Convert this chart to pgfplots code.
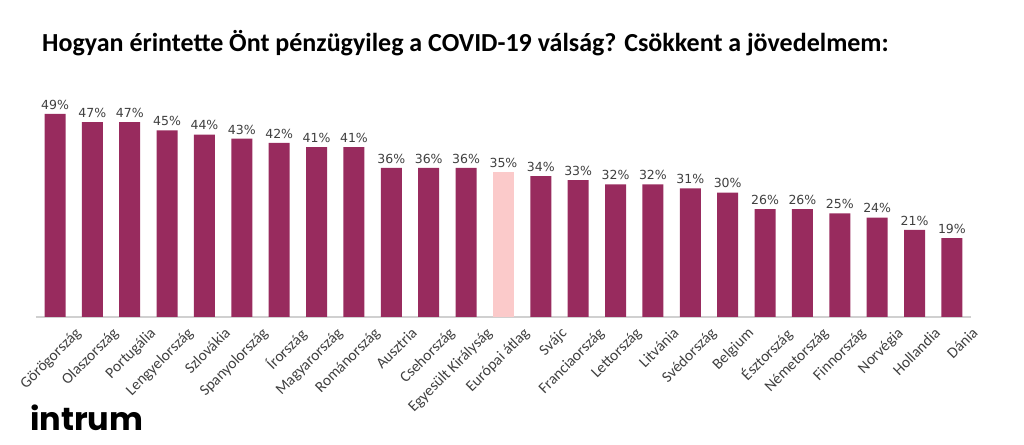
\documentclass[border=0pt]{standalone}
\usepackage{pgfplots}
\pgfplotsset{compat=1.18}
\usepackage{fontspec}
\setmainfont{Carlito}
\newfontfamily\logofont{Poppins}
\newfontfamily\valfont{DejaVu Sans}
\definecolor{plum}{HTML}{982B5E}
\definecolor{pinkavg}{HTML}{FBCACA}
\definecolor{valgrey}{HTML}{404040}
\definecolor{axgrey}{HTML}{D0D0D0}
\begin{document}
\begin{tikzpicture}[x=1pt,y=1pt]
\useasboundingbox (0,0) rectangle (1024,444);
\node[anchor=base west,font=\fontsize{26}{30}\selectfont\bfseries,inner sep=0pt] at (42,392) {Hogyan érintette Önt pénzügyileg a COVID-19 válság? Csökkent a jövedelmem:};
\node[anchor=base west,font=\logofont\fontsize{32}{36}\selectfont\bfseries,inner sep=0pt] at (30,14) {intrum};
\begin{axis}[
  at={(55pt,127pt)}, anchor=origin,
  scale only axis, width=935pt, height=228pt,
  xmin=-0.51, xmax=24.51, ymin=0, ymax=55,
  axis lines*=left, axis y line=none,
  x axis line style={axgrey, line width=1.2pt},
  xtick={0,...,24}, major tick length=0pt,
  xticklabels={Görögország,Olaszország,Portugália,Lengyelország,Szlovákia,Spanyolország,Írország,Magyarország,Románország,Ausztria,Csehország,Egyesült Királyság,Európai átlag,Svájc,Franciaország,Lettország,Litvánia,Svédország,Belgium,Észtország,Németország,Finnország,Norvégia,Hollandia,Dánia},
  xticklabel style={rotate=45, anchor=north east, font=\fontsize{15.5}{17}\selectfont, text=valgrey, inner sep=0pt, xshift=7pt, yshift=-20pt},
  ybar, bar width=21pt, bar shift=0pt,
  /pgf/number format/assume math mode=true,
  nodes near coords={\pgfmathprintnumber{\pgfplotspointmeta}\%},
  nodes near coords style={font=\valfont\fontsize{12.5}{14}\selectfont, text=valgrey, yshift=1pt},
  clip=false,
]
\addplot[fill=plum, draw=none] coordinates {
(0,49) (1,47) (2,47) (3,45) (4,44) (5,43) (6,42) (7,41) (8,41) (9,36) (10,36) (11,36)
(13,34) (14,33) (15,32) (16,32) (17,31) (18,30) (19,26) (20,26) (21,25) (22,24) (23,21) (24,19)};
\addplot[fill=pinkavg, draw=none] coordinates {(12,35)};
\end{axis}
\end{tikzpicture}
\end{document}
